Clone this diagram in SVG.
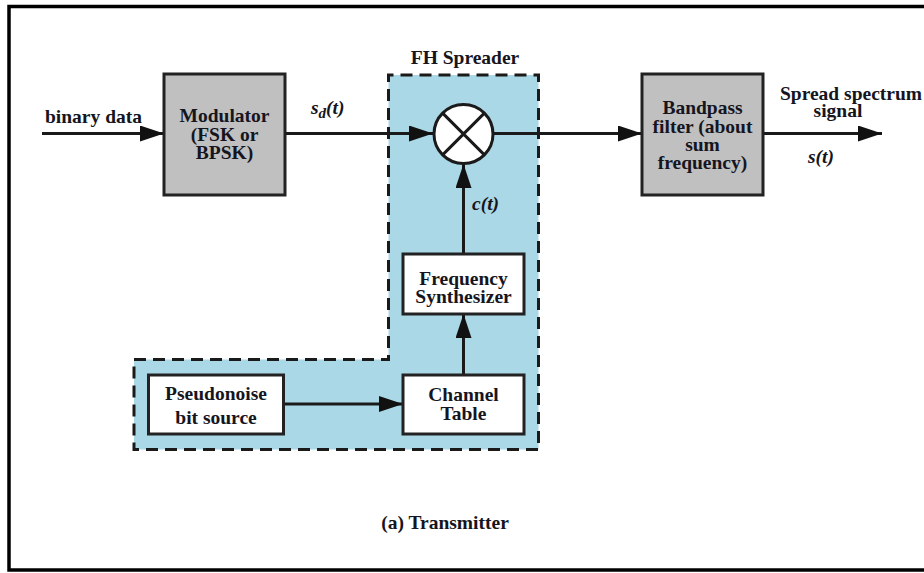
<svg xmlns="http://www.w3.org/2000/svg" width="924" height="573" viewBox="0 0 924 573">
<style>
text{font-family:"Liberation Serif","Times New Roman",serif;font-weight:bold;font-size:19.5px;fill:#151520}
.c{text-anchor:middle}
.i{font-style:italic}
.gray{fill:#c0c0c0;stroke:#222;stroke-width:3}
.white{fill:#fff;stroke:#222;stroke-width:3}
.ln{fill:none;stroke:#1a1a1a;stroke-width:3}
</style>
<defs>
<marker id="ah" markerWidth="24" markerHeight="16" refX="24" refY="8" orient="auto" markerUnits="userSpaceOnUse">
<path d="M0,0 L24,8 L0,16 Z" fill="#111"/>
</marker>
</defs>
<rect width="924" height="573" fill="#fff"/>
<rect x="9" y="6.5" width="1000" height="563.5" fill="none" stroke="#000" stroke-width="3.5"/>

<g id="fh-spreader">
<path d="M134,359.5 H388.5 V75 H538.5 V449.5 H134 Z" fill="#abd8e7" stroke="#1a1a1a" stroke-width="3" stroke-dasharray="12,7"/>
<text class="c" x="465" y="64">FH Spreader</text>
</g>

<g id="connectors">
<path class="ln" d="M42,133.5 H164" marker-end="url(#ah)"/>
<path class="ln" d="M285,133.5 H433" marker-end="url(#ah)"/>
<path class="ln" d="M493,133.5 H642" marker-end="url(#ah)"/>
<path class="ln" d="M763,133.5 H882" marker-end="url(#ah)"/>
<path class="ln" d="M463.5,254 V164" marker-end="url(#ah)"/>
<path class="ln" d="M463.5,375 V314" marker-end="url(#ah)"/>
<path class="ln" d="M283,404 H403" marker-end="url(#ah)"/>
</g>

<g id="labels">
<text x="45" y="123">binary data</text>
<text x="311" y="114" class="i">s<tspan dy="4" font-size="15">d</tspan><tspan dy="-4">(t)</tspan></text>
<text x="472" y="210" class="i">c(t)</text>
<text class="c" x="851" y="100">Spread spectrum</text>
<text class="c" x="838" y="117">signal</text>
<text x="808" y="163" class="i">s(t)</text>
</g>

<g id="modulator">
<rect class="gray" x="164" y="74" width="121" height="121"/>
<text class="c" x="224.5" y="121.5">Modulator</text>
<text class="c" x="224.5" y="140.5">(FSK or</text>
<text class="c" x="224.5" y="158.5">BPSK)</text>
</g>

<g id="mixer">
<circle cx="463.5" cy="134" r="29.5" fill="#fff" stroke="#1a1a1a" stroke-width="3"/>
<path d="M442.6,113.1 L484.4,154.9 M484.4,113.1 L442.6,154.9" stroke="#1a1a1a" stroke-width="3"/>
</g>

<g id="bandpass">
<rect class="gray" x="642" y="74" width="121" height="121"/>
<text class="c" x="702.5" y="114">Bandpass</text>
<text class="c" x="702.5" y="132.5">filter (about</text>
<text class="c" x="702.5" y="150.5">sum</text>
<text class="c" x="702.5" y="168.5">frequency)</text>
</g>

<g id="freq-synth">
<rect class="white" x="403" y="254" width="121" height="60"/>
<text class="c" x="463.5" y="284.5">Frequency</text>
<text class="c" x="463.5" y="303">Synthesizer</text>
</g>

<g id="channel-table">
<rect class="white" x="403" y="375" width="121" height="59"/>
<text class="c" x="463.5" y="401">Channel</text>
<text class="c" x="463.5" y="420">Table</text>
</g>

<g id="pn-source">
<rect class="white" x="148.5" y="375" width="135" height="59"/>
<text class="c" x="216" y="400">Pseudonoise</text>
<text class="c" x="216" y="423.5">bit source</text>
</g>

<text class="c" x="445" y="529">(a) Transmitter</text>
</svg>
